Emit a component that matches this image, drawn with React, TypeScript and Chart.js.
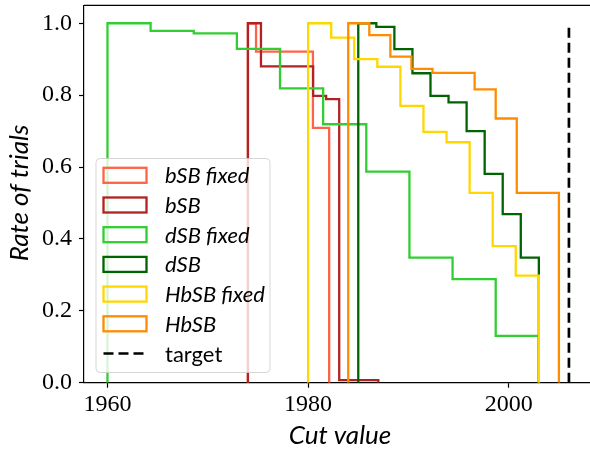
import React, { useEffect, useRef } from "react";
import { Chart, registerables } from "chart.js";

Chart.register(...registerables);

// ---- data ----
const bSBFixedEdges = [1974.0, 1974.81, 1975.62, 1976.43, 1977.24, 1978.05, 1978.86, 1979.67, 1980.48, 1981.29, 1982.1];
const bSBFixedValues = [1.0, 0.921, 0.921, 0.921, 0.921, 0.921, 0.921, 0.921, 0.709, 0.709];

const bSBEdges = [1974.0, 1975.3, 1976.6, 1977.9, 1979.2, 1980.5, 1981.8, 1983.1, 1984.4, 1985.7, 1987.0];
const bSBValues = [1.0, 0.88, 0.88, 0.88, 0.88, 0.798, 0.789, 0.007, 0.007, 0.007];

const dSBFixedEdges = [1960.0, 1964.3, 1968.6, 1972.9, 1977.2, 1981.5, 1985.8, 1990.1, 1994.4, 1998.7, 2003.0];
const dSBFixedValues = [1.0, 0.979, 0.972, 0.929, 0.819, 0.719, 0.587, 0.348, 0.288, 0.13];

const dSBEdges = [1985.0, 1986.8, 1988.6, 1990.4, 1992.2, 1994.0, 1995.8, 1997.6, 1999.4, 2001.2, 2003.0];
const dSBValues = [1.0, 0.99, 0.928, 0.861, 0.798, 0.78, 0.7, 0.581, 0.469, 0.348];

const HbSBFixedEdges = [1980.0, 1982.3, 1984.6, 1986.9, 1989.2, 1991.5, 1993.8, 1996.1, 1998.4, 2000.7, 2003.0];
const HbSBFixedValues = [1.0, 0.96, 0.9, 0.879, 0.77, 0.698, 0.669, 0.528, 0.38, 0.298];

const HbSBEdges = [1984.0, 1986.1, 1988.2, 1990.3, 1992.4, 1994.5, 1996.6, 1998.7, 2000.8, 2002.9, 2005.0];
const HbSBValues = [1.0, 0.967, 0.907, 0.873, 0.862, 0.862, 0.816, 0.735, 0.528, 0.528];

const targetValue = 2006;
const targetRange = [0, 1];

const seriesLabels = ["bSB fixed", "bSB", "dSB fixed", "dSB", "HbSB fixed", "HbSB"];
const seriesColors = ["#FF6347", "#B22222", "#32CD32", "#006400", "#FFD700", "#FF8C00"];
const targetLabel = "target";

const xTicks = [1960, 1980, 2000];
const yTicks = [0, 0.2, 0.4, 0.6, 0.8, 1.0];
const xLabel = "Cut value";
const yLabel = "Rate of trials";

const allEdges = [bSBFixedEdges, bSBEdges, dSBFixedEdges, dSBEdges, HbSBFixedEdges, HbSBEdges];
const allValues = [bSBFixedValues, bSBValues, dSBFixedValues, dSBValues, HbSBFixedValues, HbSBValues];

function stepPoints(edges: number[], values: number[]) {
  const pts: { x: number; y: number }[] = [{ x: edges[0], y: 0 }];
  values.forEach((v, i) => pts.push({ x: edges[i], y: v }));
  pts.push({ x: edges[edges.length - 1], y: 0 });
  return pts;
}

const LW = 2.3;

const overlayPlugin = {
  id: "overlay",
  afterDatasetsDraw(chart: any) {
    const ctx = chart.ctx as CanvasRenderingContext2D;
    // legend
    const lx = 96, ly = 158.5, lw = 174, lh = 214, r = 4;
    ctx.save();
    ctx.beginPath();
    ctx.moveTo(lx + r, ly);
    ctx.lineTo(lx + lw - r, ly);
    ctx.arcTo(lx + lw, ly, lx + lw, ly + r, r);
    ctx.lineTo(lx + lw, ly + lh - r);
    ctx.arcTo(lx + lw, ly + lh, lx + lw - r, ly + lh, r);
    ctx.lineTo(lx + r, ly + lh);
    ctx.arcTo(lx, ly + lh, lx, ly + lh - r, r);
    ctx.lineTo(lx, ly + r);
    ctx.arcTo(lx, ly, lx + r, ly, r);
    ctx.closePath();
    ctx.fillStyle = "rgba(255,255,255,0.8)";
    ctx.fill();
    ctx.strokeStyle = "rgba(204,204,204,0.8)";
    ctx.lineWidth = 1;
    ctx.stroke();

    const rowStart = 175.3, rowGap = 29.7;
    ctx.textBaseline = "middle";
    ctx.textAlign = "left";
    seriesLabels.forEach((lab, i) => {
      const cy = rowStart + i * rowGap;
      ctx.strokeStyle = seriesColors[i];
      ctx.lineWidth = LW;
      ctx.lineJoin = "miter";
      ctx.strokeRect(103.5, cy - 7.5, 43, 15);
      ctx.fillStyle = "#000";
      ctx.font = "italic 22px Lato";
      ctx.fillText(lab, 165, cy + 1);
    });
    const ty = rowStart + 6 * rowGap;
    ctx.strokeStyle = "#000";
    ctx.lineWidth = 2.7;
    ctx.setLineDash([10, 5]);
    ctx.beginPath();
    ctx.moveTo(103.5, ty);
    ctx.lineTo(146.5, ty);
    ctx.stroke();
    ctx.setLineDash([]);
    ctx.fillStyle = "#000";
    ctx.font = "22px Lato";
    ctx.fillText(targetLabel, 165, ty + 1);
    ctx.restore();
  },
  afterDraw(chart: any) {
    const ctx = chart.ctx as CanvasRenderingContext2D;
    const a = chart.chartArea;
    ctx.save();
    ctx.strokeStyle = "#000";
    ctx.lineWidth = 1.2;
    ctx.beginPath();
    ctx.moveTo(a.left, a.top);
    ctx.lineTo(a.right, a.top);
    ctx.stroke();

    ctx.fillStyle = "#000";
    ctx.font = "italic 26px Lato";
    ctx.textAlign = "center";
    ctx.textBaseline = "alphabetic";
    ctx.fillText(xLabel, 340, 444);

    ctx.translate(28, 193);
    ctx.rotate(-Math.PI / 2);
    ctx.fillText(yLabel, 0, 0);
    ctx.restore();
  },
};

export default function App() {
  const ref = useRef<HTMLCanvasElement>(null);
  useEffect(() => {
    if (!ref.current) return;
    const n = seriesLabels.length + 1;
    const datasets: any[] = seriesLabels.map((lab, i) => ({
      label: lab,
      data: stepPoints(allEdges[i], allValues[i]),
      borderColor: seriesColors[i],
      backgroundColor: "transparent",
      borderWidth: LW,
      pointRadius: 0,
      stepped: "before",
      fill: false,
      borderJoinStyle: "miter",
      borderCapStyle: "butt",
      order: n - i,
    }));
    datasets.push({
      label: targetLabel,
      data: [
        { x: targetValue, y: targetRange[0] },
        { x: targetValue, y: targetRange[1] },
      ],
      borderColor: "#000",
      borderWidth: 2.7,
      borderDash: [10, 5],
      pointRadius: 0,
      fill: false,
      order: 0,
    });
    const chart = new Chart(ref.current, {
      type: "line",
      data: { datasets },
      options: {
        animation: false,
        responsive: false,
        devicePixelRatio: 1,
        layout: { padding: { left: 0, right: 0, top: 5.3, bottom: 0 } },
        plugins: { legend: { display: false }, tooltip: { enabled: false } },
        scales: {
          x: {
            type: "linear",
            min: 1957.66,
            max: 2008.1,
            afterBuildTicks: (s: any) => {
              s.ticks = xTicks.map((v) => ({ value: v }));
            },
            afterFit: (s: any) => {
              s.height = 69.3;
              s.paddingLeft = 0;
              s.paddingRight = 0;
            },
            ticks: {
              autoSkip: false,
              maxRotation: 0,
              padding: 3,
              color: "#000",
              font: { family: "Liberation Serif", size: 24 },
              callback: (v: any) => String(v),
            },
            grid: {
              drawOnChartArea: false,
              drawTicks: true,
              tickLength: 5,
              tickColor: "#000",
              tickWidth: 1.2,
            },
            border: { display: true, color: "#000", width: 1.2 },
          },
          y: {
            type: "linear",
            min: 0,
            max: 1.05,
            afterBuildTicks: (s: any) => {
              s.ticks = yTicks.map((v) => ({ value: v }));
            },
            afterFit: (s: any) => {
              s.width = 84;
              s.paddingTop = 0;
              s.paddingBottom = 0;
            },
            ticks: {
              autoSkip: false,
              padding: 7,
              color: "#000",
              font: { family: "Liberation Serif", size: 24 },
              callback: (v: any) => Number(v).toFixed(1),
            },
            grid: {
              drawOnChartArea: false,
              drawTicks: true,
              tickLength: 5,
              tickColor: "#000",
              tickWidth: 1.2,
            },
            border: { display: true, color: "#000", width: 1.2 },
          },
        },
      },
      plugins: [overlayPlugin],
    } as any);
    return () => chart.destroy();
  }, []);
  return (
    <div style={{ position: "fixed", left: 0, top: 0, width: 590, height: 452, background: "#fff" }}>
      <canvas ref={ref} width={590} height={452} style={{ width: 590, height: 452, display: "block" }} />
    </div>
  );
}
